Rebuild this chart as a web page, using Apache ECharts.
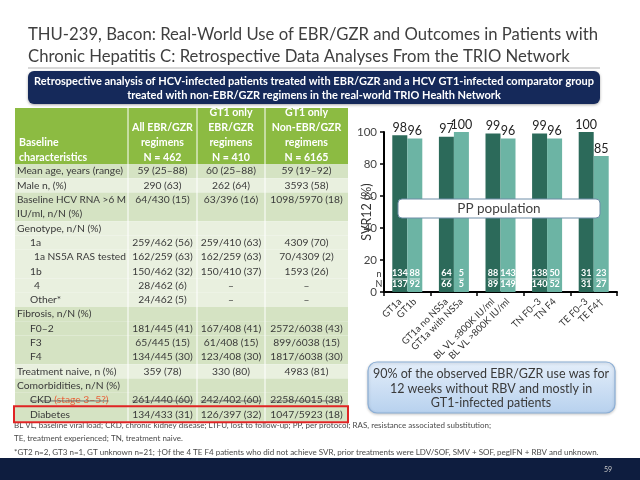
<!DOCTYPE html>
<html><head><meta charset="utf-8">
<script src="https://cdn.jsdelivr.net/npm/echarts@6/dist/echarts.min.js"></script>
<style>html,body{margin:0;padding:0;background:#fff}#c{width:640px;height:480px}</style>
</head><body><div id="c"></div>
<script>
// ---------- DATA ----------
var groups = ['G1','G2','G3','G4','G5'];
var barLabels = ['GT1a','GT1b','GT1a no NS5a','GT1a with NS5a','BL VL \u2264800K IU/ml','BL VL >800K IU/ml','TN F0\u20133','TN F4','TE F0\u20133','TE F4\u2020'];
var svrDark = [98, 97, 99, 99, 100];
var svrLight = [96, 100, 96, 96, 85];
var nDark = [134, 64, 88, 138, 31];
var NDark = [137, 66, 89, 140, 31];
var nLight = [88, 5, 143, 50, 23];
var NLight = [92, 5, 149, 52, 27];
var yTicks = [0, 20, 40, 60, 80, 100];

var titleLines = ['THU-239, Bacon: Real-World Use of EBR/GZR and Outcomes in Patients with',
  'Chronic Hepatitis C: Retrospective Data Analyses From the TRIO Network'];
var bannerLines = ['Retrospective analysis of HCV-infected patients treated with EBR/GZR and a HCV GT1-infected comparator group',
  'treated with non-EBR/GZR regimens in the real-world TRIO Health Network'];
var tableHeader = ['Baseline\ncharacteristics', 'All EBR/GZR\nregimens\nN = 462', 'GT1 only\nEBR/GZR\nregimens\nN = 410', 'GT1 only\nNon-EBR/GZR\nregimens\nN = 6165'];
// [label, col2, col3, col4, lines, band, indent]
var tableRows = [
  ['Mean age, years (range)', '59 (25\u201388)', '60 (25\u201388)', '59 (19\u201392)', 1, 0, 0],
  ['Male n, (%)', '290 (63)', '262 (64)', '3593 (58)', 1, 1, 0],
  ['Baseline HCV RNA >6 M\nIU/ml, n/N (%)', '64/430 (15)', '63/396 (16)', '1098/5970 (18)', 2, 0, 0],
  ['Genotype, n/N (%)', '', '', '', 1, 1, 0],
  ['1a', '259/462 (56)', '259/410 (63)', '4309 (70)', 1, 1, 1],
  ['1a NS5A RAS tested', '162/259 (63)', '162/259 (63)', '70/4309 (2)', 1, 1, 2],
  ['1b', '150/462 (32)', '150/410 (37)', '1593 (26)', 1, 1, 1],
  ['4', '28/462 (6)', '\u2013', '\u2013', 1, 1, 2],
  ['Other*', '24/462 (5)', '\u2013', '\u2013', 1, 1, 1],
  ['Fibrosis, n/N (%)', '', '', '', 1, 0, 0],
  ['F0\u20132', '181/445 (41)', '167/408 (41)', '2572/6038 (43)', 1, 0, 1],
  ['F3', '65/445 (15)', '61/408 (15)', '899/6038 (15)', 1, 0, 1],
  ['F4', '134/445 (30)', '123/408 (30)', '1817/6038 (30)', 1, 0, 1],
  ['Treatment naive, n (%)', '359 (78)', '330 (80)', '4983 (81)', 1, 1, 0],
  ['Comorbidities, n/N (%)', '', '', '', 1, 0, 0],
  ['CKD', '261/440 (60)', '242/402 (60)', '2258/6015 (38)', 1, 0, 1],
  ['Diabetes', '134/433 (31)', '126/397 (32)', '1047/5923 (18)', 1, 0, 1]
];
var ckdNote = '(stage 3\u20135?)';
var boxLines = ['90% of the observed EBR/GZR use was for', '12 weeks without RBV and mostly in', 'GT1-infected patients'];
var footLines = ['BL VL, baseline viral load; CKD, chronic kidney disease; LTFU, lost to follow-up; PP, per protocol; RAS, resistance associated substitution;',
  'TE, treatment experienced; TN, treatment naive.',
  '*GT2 n=2, GT3 n=1, GT unknown n=21; \u2020Of the 4 TE F4 patients who did not achieve SVR, prior treatments were LDV/SOF, SMV + SOF, pegIFN + RBV and unknown.'];
var pageNum = '59';
var ppText = 'PP population';

// ---------- LAYOUT ----------
var FONT = 'Lato, "Open Sans", sans-serif';
var DARK = '#2c6a5a', LIGHT = '#6cb4a4';
var gridL = 384, gridR = 617, gridT = 132, gridB = 292;
var barW = 15;
var gw = gridR - gridL;
var halfOff = (barW / 2) / (gw / groups.length);
var labelPos = [];
groups.forEach(function (g, i) { labelPos.push(i + 0.5 - halfOff); labelPos.push(i + 0.5 + halfOff); });

var cv = document.createElement('canvas').getContext('2d');
function tw(t, size, weight) { cv.font = (weight || 'normal') + ' ' + size + 'px ' + FONT; return cv.measureText(t).width; }

var graphics = [];
function txt(x, y, t, size, color, opt) {
  opt = opt || {};
  graphics.push({ type: 'text', x: x, y: y, z: opt.z || 50, style: {
    text: t, fontSize: size, fill: color, fontFamily: FONT, fontWeight: opt.weight || 'normal',
    align: opt.align || 'left', verticalAlign: opt.va || 'middle', lineHeight: opt.lh || size * 1.2 } });
}
var TF = 10.3;
// title
txt(28, 35, titleLines[0], 16.7, '#3f3f3f');
txt(28, 57, titleLines[1], 16.7, '#3f3f3f');
graphics.push({ type: 'line', shape: { x1: 28, y1: 68, x2: 600, y2: 68 }, style: { stroke: '#b0b0b0', lineWidth: 1 } });
// banner
graphics.push({ type: 'rect', shape: { x: 28, y: 71, width: 572, height: 33, r: 6 }, style: { fill: '#15295a', shadowBlur: 3, shadowColor: 'rgba(0,0,0,0.35)', shadowOffsetY: 1 } });
txt(314, 81.5, bannerLines[0], 11, '#ffffff', { align: 'center', weight: 'bold' });
txt(314, 95.5, bannerLines[1], 11, '#ffffff', { align: 'center', weight: 'bold' });

// table
var colX = [15, 128, 197, 265, 348];
var headT = 108, headB = 164, step = 14.3;
graphics.push({ type: 'rect', shape: { x: colX[0], y: headT, width: colX[4] - colX[0], height: headB - headT }, style: { fill: '#8cbb42' } });
tableHeader.forEach(function (h, c) {
  var lines = h.split('\n');
  lines.forEach(function (ln, k) {
    var y = headB - 6 - (lines.length - 1 - k) * 15;
    if (c === 0) txt(colX[0] + 4, y, ln, TF + 0.3, '#ffffff', { weight: 'bold' });
    else txt((colX[c] + colX[c + 1]) / 2, y, ln, TF + 0.3, '#ffffff', { weight: 'bold', align: 'center' });
  });
});
var bands = ['#d5e3c3', '#e9f0df'];
var y0 = headB;
var ckdY = 0, diaY = 0;
function fitSize(t, x0, xmax, base) { var w = tw(t, base); return w > xmax - x0 ? base * (xmax - x0) / w : base; }
tableRows.forEach(function (r) {
  var h = r[4] * step;
  graphics.push({ type: 'rect', shape: { x: colX[0], y: y0, width: colX[4] - colX[0], height: h }, style: { fill: bands[r[5]] } });
  var lines = r[0].split('\n');
  var ind = r[6] === 1 ? 13 : (r[6] === 2 ? 17 : 0);
  lines.forEach(function (ln, k) {
    var xs = colX[0] + 2 + ind;
    txt(xs, y0 + step / 2 + k * step, ln, fitSize(ln, xs, colX[1] - 2, TF), '#3a3a3a');
  });
  for (var c = 1; c <= 3; c++) txt((colX[c] + colX[c + 1]) / 2, y0 + step / 2, r[c], TF, '#3a3a3a', { align: 'center' });
  if (r[0] === 'CKD') ckdY = y0 + step / 2;
  if (r[0] === 'Diabetes') diaY = y0 + step / 2;
  y0 += h;
});
// CKD note + strike
var ckdLabelX = colX[0] + 2 + 13;
var ckdW = tw('CKD ', TF);
txt(ckdLabelX + ckdW, ckdY, ckdNote, TF, '#e8643c');
graphics.push({ type: 'line', shape: { x1: ckdLabelX, y1: ckdY + 1, x2: ckdLabelX + ckdW + tw(ckdNote, TF), y2: ckdY + 1 }, z: 55, style: { stroke: '#555', lineWidth: 0.8 } });
for (var c = 1; c <= 3; c++) {
  var w = tw(tableRows[15][c], TF), cx = (colX[c] + colX[c + 1]) / 2;
  graphics.push({ type: 'line', shape: { x1: cx - w / 2, y1: ckdY + 1, x2: cx + w / 2, y2: ckdY + 1 }, z: 55, style: { stroke: '#555', lineWidth: 0.8 } });
}
// column separators
for (var c = 1; c <= 3; c++) graphics.push({ type: 'line', shape: { x1: colX[c], y1: headT, x2: colX[c], y2: y0 }, z: 20, style: { stroke: '#ffffff', lineWidth: 1 } });
// red highlight
graphics.push({ type: 'rect', shape: { x: 14, y: diaY - 8, width: 334, height: 16 }, z: 60, style: { fill: 'none', stroke: '#e02424', lineWidth: 2 } });

// PP population box
graphics.push({ type: 'rect', shape: { x: 398, y: 199, width: 202, height: 19, r: 4 }, z: 80, style: { fill: '#ffffff', stroke: '#6f8ea8', lineWidth: 1 } });
txt(499, 209, ppText, 13.5, '#404040', { align: 'center', z: 81 });
// n / N markers
txt(379, 274, 'n', 9, '#333', { align: 'center', z: 81 });
txt(379, 284, 'N', 9, '#333', { align: 'center', z: 81 });

// 90% box
graphics.push({ type: 'rect', shape: { x: 368, y: 362, width: 247, height: 51, r: 9 }, z: 80,
  style: { fill: { type: 'linear', x: 0, y: 0, x2: 0, y2: 1, colorStops: [{ offset: 0, color: '#e4eefa' }, { offset: 1, color: '#b7d1ee' }] }, stroke: '#8cafd6', lineWidth: 1.2, shadowBlur: 3, shadowColor: 'rgba(0,0,0,0.2)', shadowOffsetY: 1 } });
boxLines.forEach(function (l, k) { txt(491, 374 + k * 14.5, l, 12.5, '#3a3a3a', { align: 'center', z: 81 }); });

// footnotes
footLines.forEach(function (l, k) { txt(14, 425 + k * 13.5, l, 8, '#4a4a4a'); });
// bottom bar
graphics.push({ type: 'rect', shape: { x: 0, y: 458, width: 640, height: 22 }, style: { fill: '#0e1d3f' } });
txt(608, 470, pageNum, 7, '#c8c8c8', { align: 'center' });

// ---------- CHART ----------
function barSeries(data, color) {
  return {
    type: 'bar', data: data, barWidth: barW, barGap: '0%', xAxisIndex: 0, yAxisIndex: 0,
    itemStyle: { color: color },
    label: { show: true, position: 'top', distance: 1, fontSize: 12.5, color: '#222', fontFamily: FONT },
    z: 3
  };
}
var chart = echarts.init(document.getElementById('c'), null, { renderer: 'canvas' });
function nnSeries(nArr, NArr, side) {
  return {
    type: 'custom', xAxisIndex: 0, yAxisIndex: 0, z: 10,
    data: nArr.map(function (v, i) { return [i, 0]; }),
    renderItem: function (params, api) {
      var p = api.coord([api.value(0), 0]);
      var x = p[0] + side * barW / 2;
      var ns = String(nArr[params.dataIndex]), Ns = String(NArr[params.dataIndex]);
      var w = tw(ns, 9, 'bold');
      return { type: 'group', children: [
        { type: 'text', x: x, y: p[1] - 18.5, style: { text: ns, fill: '#fff', fontSize: 9, fontWeight: 'bold', fontFamily: FONT, align: 'center', verticalAlign: 'middle' } },
        { type: 'line', shape: { x1: x - w / 2, y1: p[1] - 13, x2: x + w / 2, y2: p[1] - 13 }, style: { stroke: '#fff', lineWidth: 0.8 } },
        { type: 'text', x: x, y: p[1] - 8, style: { text: Ns, fill: '#fff', fontSize: 9, fontWeight: 'bold', fontFamily: FONT, align: 'center', verticalAlign: 'middle' } }
      ] };
    }
  };
}
chart.setOption({
  animation: false,
  grid: { left: gridL, right: 640 - gridR, top: gridT, bottom: 480 - gridB, containLabel: false },
  xAxis: [
    { type: 'category', data: groups, axisLabel: { show: false },
      axisLine: { lineStyle: { color: '#000', width: 2 } }, axisTick: { show: true, length: 4, lineStyle: { color: '#000', width: 1.5 } } },
    { type: 'value', min: 0, max: groups.length, position: 'bottom', axisLine: { show: false }, splitLine: { show: false },
      axisTick: { show: false },
      axisLabel: { customValues: labelPos, rotate: 45, fontSize: 9.5, color: '#333', fontFamily: FONT, margin: 8,
        formatter: function (v) { var i = labelPos.findIndex(function (q) { return Math.abs(q - v) < 1e-6; }); return i >= 0 ? barLabels[i] : ''; } } }
  ],
  yAxis: { type: 'value', min: 0, max: 100, interval: 20, name: 'SVR12 (%)', nameLocation: 'middle', nameGap: 11, nameMoveOverlap: false,
    nameTextStyle: { fontSize: 12.5, color: '#333', fontFamily: FONT },
    axisLine: { show: true, lineStyle: { color: '#000', width: 2 } }, axisTick: { show: true, length: 4, lineStyle: { color: '#000', width: 1.5 } },
    splitLine: { show: false }, axisLabel: { fontSize: 11.5, color: '#444', fontFamily: FONT, margin: 7 } },
  series: [barSeries(svrDark, DARK), barSeries(svrLight, LIGHT), nnSeries(nDark, NDark, -1), nnSeries(nLight, NLight, 1)],
  graphic: graphics
});
</script></body></html>
